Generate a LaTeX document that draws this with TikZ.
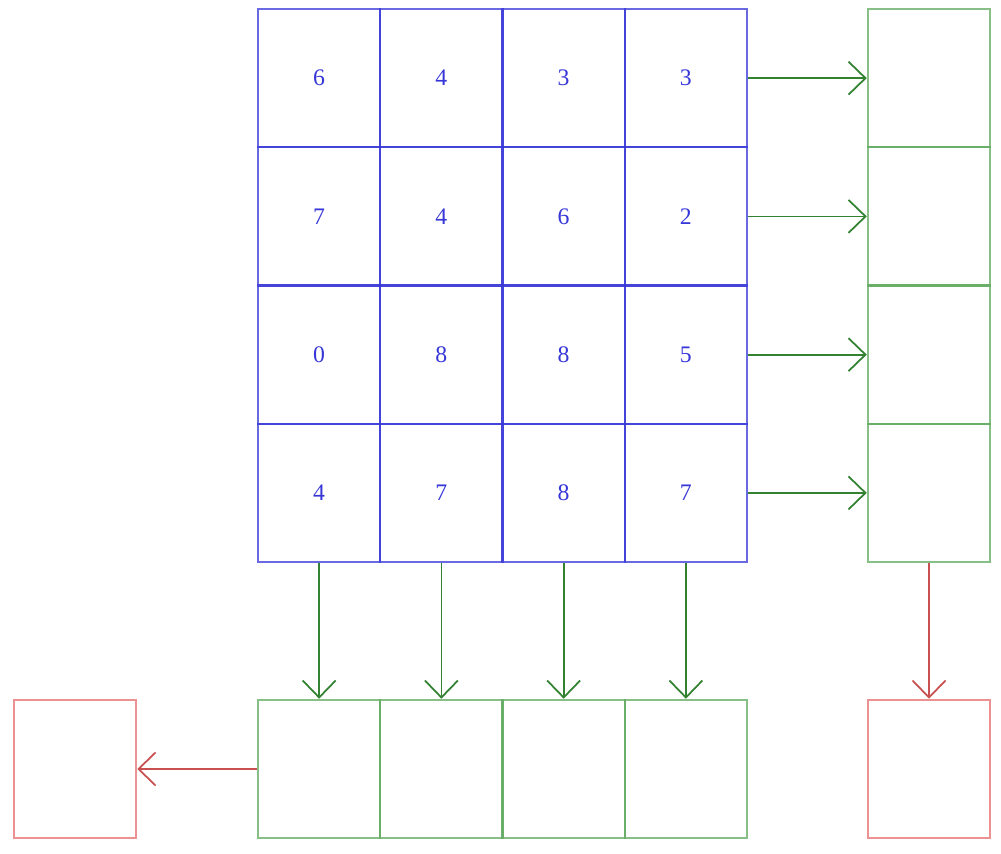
\documentclass[tikz,border=0pt]{standalone}
\usepackage{fontspec}
\setmainfont{Liberation Serif}
\usetikzlibrary{arrows.meta}
\definecolor{gridblue}{RGB}{55,55,215}
\definecolor{boxgreen}{RGB}{95,170,95}
\definecolor{arrgreen}{RGB}{50,130,50}
\definecolor{boxred}{RGB}{230,110,110}
\definecolor{arrred}{RGB}{200,80,80}
\tikzset{
  cell/.style={draw=gridblue, draw opacity=0.75, line width=1.3pt, inner sep=0pt,
    minimum width=2.445cm, minimum height=2.765cm, text=gridblue,
    font=\fontsize{13.5}{15}\selectfont},
  gbox/.style={cell, draw=boxgreen},
  rbox/.style={cell, draw=boxred},
  garrow/.style={draw=arrgreen, line width=1pt, -{Straight Barb[length=3.4mm,width=6.6mm]}},
  rarrow/.style={draw=arrred, line width=1pt, -{Straight Barb[length=3.4mm,width=6.6mm]}}
}
\begin{document}
\begin{tikzpicture}[x=0.02cm,y=-0.02cm]
\useasboundingbox (0,0) rectangle (1001,854);
% the 4x4 grid
\foreach \row/\vals in {1/{6,4,3,3},2/{7,4,6,2},3/{0,8,8,5},4/{4,7,8,7}} {
  \foreach \v [count=\col] in \vals {
    \node[cell] (c\row\col) at (258+122.25*\col-61.1, 9+138.25*\row-69.1) {\v};
  }
}
% row boxes and column boxes
\foreach \i in {1,...,4} {
  \node[gbox] (r\i) at (929, 9+138.25*\i-69.1) {};
  \node[gbox] (b\i) at (258+122.25*\i-61.1, 769) {};
}
\node[rbox] (rsum) at (929,769) {};
\node[rbox] (bsum) at (75,769) {};
% arrows
\foreach \i in {1,...,4} {
  \draw[garrow] (c\i4.east) -- (r\i.west);
  \draw[garrow] (c4\i.south) -- (b\i.north);
}
\draw[rarrow] (r4.south) -- (rsum.north);
\draw[rarrow] (b1.west) -- (bsum.east);
\end{tikzpicture}
\end{document}
